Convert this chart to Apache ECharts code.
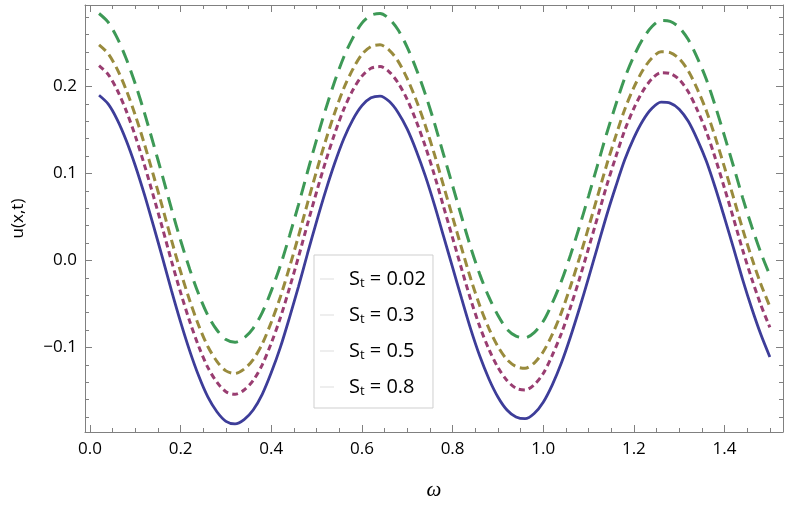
<!DOCTYPE html>
<html><head><meta charset="utf-8">
<script src="https://cdn.jsdelivr.net/npm/echarts@6/dist/echarts.min.js"></script>
<style>html,body{margin:0;padding:0;background:#fff}#c{width:788px;height:506px}</style>
</head><body><div id="c"></div>
<script>
const omega = [0.02,0.04,0.06,0.08,0.10,0.12,0.14,0.16,0.18,0.20,
  0.22,0.24,0.26,0.28,0.30,0.32,0.34,0.36,0.38,0.40,
  0.42,0.44,0.46,0.48,0.50,0.52,0.54,0.56,0.58,0.60,
  0.62,0.64,0.66,0.68,0.70,0.72,0.74,0.76,0.78,0.80,
  0.82,0.84,0.86,0.88,0.90,0.92,0.94,0.96,0.98,1.00,
  1.02,1.04,1.06,1.08,1.10,1.12,1.14,1.16,1.18,1.20,
  1.22,1.24,1.26,1.28,1.30,1.32,1.34,1.36,1.38,1.40,
  1.42,1.44,1.46,1.48,1.50];
const u_st002 = [0.190,0.180,0.162,0.138,0.109,0.076,0.040,0.003,-0.035,-0.071,
  -0.104,-0.133,-0.157,-0.174,-0.185,-0.188,-0.183,-0.172,-0.154,-0.129,
  -0.100,-0.066,-0.030,0.008,0.045,0.080,0.112,0.140,0.162,0.178,
  0.187,0.189,0.183,0.170,0.151,0.126,0.097,0.064,0.028,-0.008,
  -0.044,-0.079,-0.110,-0.136,-0.157,-0.172,-0.180,-0.182,-0.176,-0.163,
  -0.143,-0.118,-0.088,-0.055,-0.020,0.016,0.052,0.085,0.116,0.141,
  0.161,0.175,0.182,0.181,0.174,0.160,0.139,0.114,0.083,0.049,
  0.014,-0.022,-0.055,-0.085,-0.111];
const u_st03 = [0.224,0.214,0.196,0.172,0.143,0.110,0.074,0.037,-0.001,-0.037,
  -0.070,-0.099,-0.123,-0.140,-0.151,-0.154,-0.149,-0.138,-0.120,-0.095,
  -0.066,-0.032,0.004,0.042,0.079,0.114,0.146,0.174,0.196,0.212,
  0.221,0.223,0.217,0.204,0.185,0.160,0.131,0.098,0.062,0.026,
  -0.010,-0.045,-0.076,-0.102,-0.123,-0.138,-0.147,-0.149,-0.143,-0.130,
  -0.109,-0.084,-0.054,-0.021,0.014,0.050,0.086,0.119,0.150,0.175,
  0.195,0.209,0.216,0.215,0.208,0.194,0.173,0.148,0.117,0.083,
  0.048,0.012,-0.021,-0.051,-0.077];
const u_st05 = [0.248,0.238,0.220,0.196,0.167,0.134,0.098,0.061,0.023,-0.013,
  -0.046,-0.075,-0.099,-0.116,-0.127,-0.130,-0.125,-0.114,-0.096,-0.071,
  -0.042,-0.008,0.028,0.066,0.103,0.138,0.170,0.198,0.220,0.237,
  0.246,0.248,0.242,0.229,0.209,0.184,0.155,0.122,0.086,0.050,
  0.014,-0.021,-0.052,-0.078,-0.099,-0.114,-0.122,-0.124,-0.118,-0.105,
  -0.085,-0.060,-0.030,0.003,0.038,0.074,0.110,0.143,0.174,0.199,
  0.219,0.233,0.240,0.239,0.232,0.218,0.197,0.172,0.141,0.107,
  0.072,0.036,0.003,-0.027,-0.053];
const u_st08 = [0.284,0.274,0.256,0.232,0.203,0.170,0.134,0.097,0.059,0.023,
  -0.010,-0.039,-0.063,-0.080,-0.091,-0.094,-0.089,-0.078,-0.060,-0.035,
  -0.006,0.028,0.064,0.102,0.139,0.174,0.206,0.234,0.256,0.273,
  0.282,0.284,0.278,0.265,0.245,0.220,0.191,0.158,0.122,0.086,
  0.050,0.015,-0.016,-0.042,-0.063,-0.079,-0.087,-0.089,-0.083,-0.070,
  -0.049,-0.024,0.006,0.039,0.074,0.110,0.146,0.179,0.210,0.235,
  0.255,0.269,0.276,0.275,0.268,0.254,0.233,0.208,0.177,0.143,
  0.108,0.072,0.039,0.009,-0.017];
const stLabels = ['0.02','0.3','0.5','0.8'];

const seriesValues = [u_st002, u_st03, u_st05, u_st08];
const colors = ['#3d3d99','#993d71','#998b3d','#3d9956'];
const widths = [2.8, 3, 3, 3];
const dashes = ['solid', [6,4], [9,5], [14,8]];
const FONT = 'Open Sans';
const axisColor = '#808080';

function fmt(v){ return v.toFixed(1).replace('-', '\u2212'); }

function xAx(pos, labels){
  return {
    type:'value', position:pos, min:-0.011, max:1.529, splitNumber:8,
    axisLine:{show:true, onZero:false, lineStyle:{color:axisColor, width:1}},
    axisTick:{show:true, inside:true, length:7, lineStyle:{color:axisColor, width:1}},
    minorTick:{show:true, splitNumber:4, length:4, lineStyle:{color:axisColor, width:1}},
    splitLine:{show:false},
    axisLabel:{show:labels, showMinLabel:false, showMaxLabel:false, formatter:fmt,
      fontSize:17, color:'#000', fontFamily:FONT, margin:9},
    name: labels ? '\u03C9' : '', nameLocation:'middle', nameGap:48,
    nameTextStyle:{fontSize:21, fontStyle:'italic', fontFamily:'Liberation Serif', color:'#000'}
  };
}
function yAx(pos, labels){
  return {
    type:'value', position:pos, min:-0.1973, max:0.2938, splitNumber:5,
    axisLine:{show:true, onZero:false, lineStyle:{color:axisColor, width:1}},
    axisTick:{show:true, inside:true, length:7, lineStyle:{color:axisColor, width:1}},
    minorTick:{show:true, splitNumber:5, length:4, lineStyle:{color:axisColor, width:1}},
    splitLine:{show:false},
    axisLabel:{show:labels, showMinLabel:false, showMaxLabel:false, formatter:fmt,
      fontSize:17, color:'#000', fontFamily:FONT, margin:8},
    name: labels ? 'u(x,t)' : '', nameLocation:'middle', nameGap:58, nameRotate:90,
    nameTextStyle:{fontSize:17, fontFamily:FONT, color:'#000'}
  };
}

const series = seriesValues.map((vals, i) => ({
  name: stLabels[i], type:'line', xAxisIndex:0, yAxisIndex:0,
  data: omega.map((x, k) => [x, vals[k]]),
  smooth:0.3, showSymbol:false, symbol:'none',
  lineStyle:{color:colors[i], width:widths[i], type:dashes[i]},
  itemStyle:{color:colors[i]}, z: 2 + (3 - i)
}));

const chart = echarts.init(document.getElementById('c'), null, {renderer:'canvas'});
chart.setOption({
  animation:false,
  backgroundColor:'#fff',
  grid:{left:85, right:5, top:5, bottom:70, containLabel:false},
  xAxis:[xAx('bottom', true), xAx('top', false)],
  yAxis:[yAx('left', true), yAx('right', false)],
  legend:{
    data: stLabels, orient:'vertical', left:314, top:255,
    backgroundColor:'#fff', borderColor:'#cfcfcf', borderWidth:1,
    padding:[13, 7, 10, 6], itemGap:14, itemWidth:14, itemHeight:1,
    icon:'rect', itemStyle:{color:'#dcdcdc', borderWidth:0},
    selectedMode:false,
    formatter: n => '{s|S}{t|t}{v| = ' + n + '}',
    textStyle:{
      fontFamily:FONT, fontSize:20, color:'#000', lineHeight:22,
      rich:{
        s:{fontFamily:FONT, fontSize:20, color:'#000', lineHeight:22, padding:[0,0,0,10]},
        t:{fontFamily:FONT, fontSize:13, color:'#000', lineHeight:22, verticalAlign:'bottom', padding:[8,0,0,0]},
        v:{fontFamily:FONT, fontSize:20, color:'#000', lineHeight:22}
      }
    }
  },
  series: series
});
</script>
</body></html>
